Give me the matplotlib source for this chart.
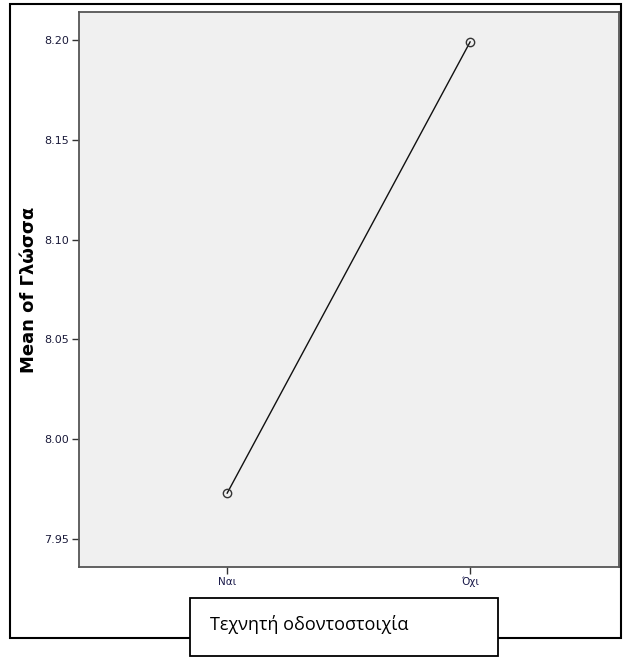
import matplotlib
matplotlib.use("Agg")
import matplotlib.pyplot as plt
from matplotlib.patches import Rectangle

categories = ["Ναι", "Όχι"]
means = [7.973, 8.199]
y_ticks = [7.95, 8.00, 8.05, 8.10, 8.15, 8.20]
y_label = "Mean of Γλώσσα"
x_title = "Τεχνητή οδοντοστοιχία"

W, H = 627, 658
fig = plt.figure(figsize=(W / 100, H / 100), dpi=100)
fig.patch.set_facecolor("white")

# plot area in pixel coordinates (left, top, right, bottom)
L, T, R, B = 79, 12, 619, 567
ax = fig.add_axes([L / W, 1 - B / H, (R - L) / W, (B - T) / H])
ax.set_facecolor("#f0f0f0")

xs = list(range(len(categories)))
ax.plot(xs, means, color="#111111", lw=1.0, zorder=2)
ax.plot(xs, means, linestyle="none", marker="o", markersize=6,
        markerfacecolor="none", markeredgecolor="#333333",
        markeredgewidth=1.0, zorder=3)

ax.set_xlim(-0.61, 1.613)
ax.set_ylim(7.936, 8.214)
ax.set_xticks(xs)
ax.set_xticklabels(categories, fontsize=7.5, color="#1a1a4a")
ax.set_yticks(y_ticks)
ax.set_yticklabels([f"{v:.2f}" for v in y_ticks], fontsize=8, color="#1a1a3a")
ax.tick_params(axis="both", direction="out", length=5, width=1, color="#333333", pad=2)

for s in ax.spines.values():
    s.set_color("#555555")
    s.set_linewidth(1.3)

ax.set_ylabel(y_label, fontsize=13, fontweight="bold")
ax.yaxis.set_label_coords((38 - L) / (R - L), 0.5)

# outer frame around the whole chart
frame = Rectangle((9.5 / W, 1 - 638 / H), (621 - 9.5) / W, (638 - 4) / H,
                  transform=fig.transFigure, fill=False, edgecolor="black",
                  linewidth=1.5, zorder=1)
fig.add_artist(frame)

# caption box for the x-axis variable
bx0, by0, bx1, by1 = 190, 598, 498, 656
box = Rectangle((bx0 / W, 1 - by1 / H), (bx1 - bx0) / W, (by1 - by0) / H,
                transform=fig.transFigure, facecolor="white", edgecolor="black",
                linewidth=1.3, zorder=5)
fig.add_artist(box)
fig.text(210 / W, 1 - 624 / H, x_title, fontsize=13, family=["Open Sans", "DejaVu Sans"],
         ha="left", va="center", zorder=6)

fig.savefig("out.png", dpi=100, facecolor="white")
